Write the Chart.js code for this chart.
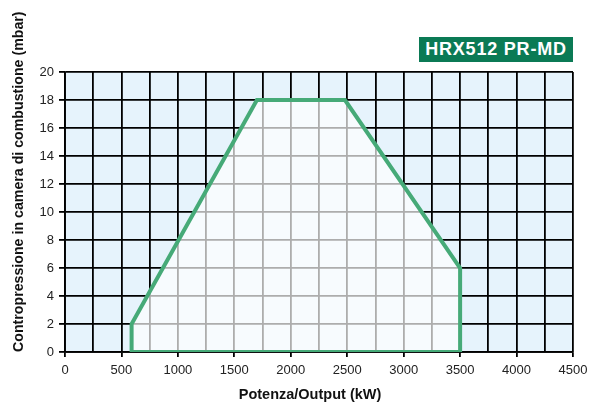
<!DOCTYPE html>
<html>
<head>
<meta charset="utf-8">
<script src="https://cdn.jsdelivr.net/npm/chart.js@4.4.1/dist/chart.umd.min.js"></script>
<style>
  html, body { margin: 0; padding: 0; background: #fff; }
  #wrap { position: relative; width: 596px; height: 410px; }
  #badge {
    position: absolute; left: 419px; top: 37px; width: 154px; height: 25px;
    background: #0b7a55; color: #fff; font: bold 18px "Liberation Sans", Arial, sans-serif;
    letter-spacing: 0.8px; line-height: 25px; text-align: center;
  }
</style>
</head>
<body>
<div id="wrap">
  <canvas id="chart" width="596" height="410"></canvas>
  <div id="badge">HRX512 PR-MD</div>
</div>
<script>
const outputKw = [590, 590, 1700, 2480, 3500, 3500, 590];
const pressureMbar = [0, 2, 18, 18, 6, 0, 0];
const xTicks = [0, 500, 1000, 1500, 2000, 2500, 3000, 3500, 4000, 4500];
const yTicks = [0, 2, 4, 6, 8, 10, 12, 14, 16, 18, 20];

const font = "'Liberation Sans', Arial, sans-serif";

const plotBg = {
  id: "plotBg",
  beforeDraw(chart) {
    const { ctx, chartArea } = chart;
    ctx.save();
    ctx.fillStyle = "#e6f3fc";
    ctx.fillRect(chartArea.left, chartArea.top, chartArea.right - chartArea.left, chartArea.bottom - chartArea.top);
    ctx.restore();
  },
  // light fill over the grid inside the working area, under the line
  beforeDatasetsDraw(chart) {
    const { ctx } = chart;
    const pts = chart.getDatasetMeta(0).data;
    ctx.save();
    ctx.fillStyle = "rgba(255,255,255,0.68)";
    ctx.beginPath();
    pts.forEach((p, i) => (i === 0 ? ctx.moveTo(p.x, p.y) : ctx.lineTo(p.x, p.y)));
    ctx.closePath();
    ctx.fill();
    ctx.restore();
  },
  // x axis title sits a little left of the plot centre
  afterDraw(chart) {
    const { ctx } = chart;
    ctx.save();
    ctx.fillStyle = "#111";
    ctx.font = "bold 14.5px " + font;
    ctx.textAlign = "center";
    ctx.textBaseline = "middle";
    ctx.fillText("Potenza/Output (kW)", 310, 395);
    ctx.restore();
  },
};

document.addEventListener("DOMContentLoaded", () => {
  const canvas = document.getElementById("chart");

  new Chart(canvas, {
    type: "scatter",
    data: {
      datasets: [
        {
          data: outputKw.map((x, i) => ({ x: x, y: pressureMbar[i] })),
          showLine: true,
          fill: false,
          borderColor: "#46aa78",
          borderWidth: 4,
          borderJoinStyle: "miter",
          pointRadius: 0,
          tension: 0,
        },
      ],
    },
    plugins: [plotBg],
    options: {
      responsive: false,
      animation: false,
      layout: { padding: { left: 0, right: 23, top: 72, bottom: 0 } },
      plugins: { legend: { display: false }, tooltip: { enabled: false } },
      scales: {
        x: {
          type: "linear",
          min: 0,
          max: 4500,
          afterBuildTicks: (scale) => {
            const t = [];
            for (let v = 0; v <= 4500; v += 250) t.push({ value: v });
            scale.ticks = t;
          },
          afterFit: (scale) => { scale.height = 58; },
          ticks: {
            autoSkip: false,
            maxRotation: 0,
            padding: 6,
            color: "#222",
            font: { family: font, size: 13 },
            callback: (v) => (xTicks.includes(v) ? String(v) : ""),
          },
          grid: {
            color: "#000",
            lineWidth: 1.8,
            tickLength: 5,
            tickColor: (c) => (c.tick && c.tick.value % 500 === 0 ? "#000" : "rgba(0,0,0,0)"),
          },
          border: { color: "#000", width: 1.8 },
        },
        y: {
          min: 0,
          max: 20,
          afterBuildTicks: (scale) => { scale.ticks = yTicks.map((v) => ({ value: v })); },
          afterFit: (scale) => { scale.width = 65; },
          ticks: {
            padding: 5,
            color: "#222",
            font: { family: font, size: 13 },
          },
          grid: { color: "#000", lineWidth: 1.8, tickLength: 6 },
          border: { color: "#000", width: 1.8 },
          title: {
            display: true,
            text: "Contropressione in camera di combustione (mbar)",
            align: "start",
            color: "#111",
            font: { family: font, size: 14.2, weight: "bold" },
            padding: { top: 11, bottom: 0 },
          },
        },
      },
    },
  });
});
</script>
</body>
</html>
